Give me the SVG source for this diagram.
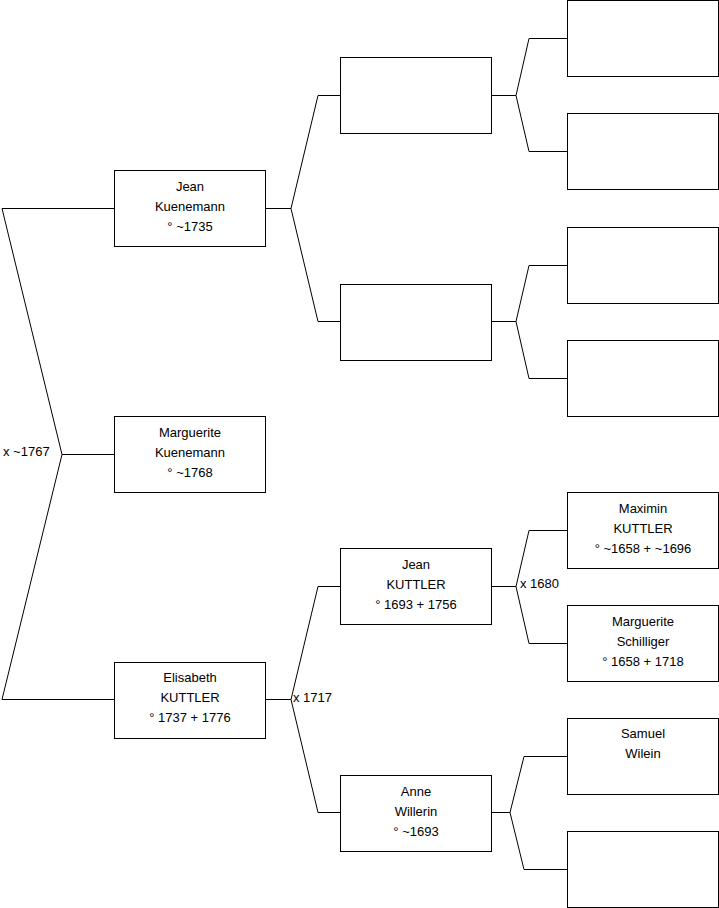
<svg xmlns="http://www.w3.org/2000/svg" width="719" height="908" viewBox="0 0 719 908">
<style>
.box{fill:#fff;stroke:#000;stroke-width:1}
.ln{fill:none;stroke:#000;stroke-width:1}
text{font-family:"Liberation Sans",Arial,sans-serif;font-size:13px;fill:#000}
.c{text-anchor:middle}
</style>
<rect width="719" height="908" fill="#fff"/>
<g id="connectors">
<polyline class="ln" points="114,208.5 2,208.5 62,454.5 2,699.5 114,699.5"/>
<line class="ln" x1="62" y1="454.5" x2="114" y2="454.5"/>
<polyline class="ln" points="340,95.5 318,95.5 291,208.5 318,321.5 340,321.5"/>
<line class="ln" x1="265" y1="208.5" x2="291" y2="208.5"/>
<polyline class="ln" points="340,586.5 318,586.5 291,699.5 318,812.5 340,812.5"/>
<line class="ln" x1="265" y1="699.5" x2="291" y2="699.5"/>
<polyline class="ln" points="567,38.5 529,38.5 516,95.5 529,151.5 567,151.5"/>
<line class="ln" x1="492" y1="95.5" x2="516" y2="95.5"/>
<polyline class="ln" points="567,265.5 529,265.5 516,321.5 529,378.5 567,378.5"/>
<line class="ln" x1="492" y1="321.5" x2="516" y2="321.5"/>
<polyline class="ln" points="567,530.5 529,530.5 516,586.5 529,643.5 567,643.5"/>
<line class="ln" x1="492" y1="586.5" x2="516" y2="586.5"/>
<polyline class="ln" points="567,756.5 524,756.5 510,812.5 524,869.5 567,869.5"/>
<line class="ln" x1="492" y1="812.5" x2="510" y2="812.5"/>
<text x="3" y="456">x ~1767</text>
<text x="293" y="702">x 1717</text>
<text x="520" y="588">x 1680</text>
</g>
<g id="n1"><rect class="box" x="114.5" y="170.5" width="151" height="76"/>
<text class="c" x="190" y="191">Jean</text><text class="c" x="190" y="211">Kuenemann</text><text class="c" x="190" y="231">° ~1735</text></g>
<g id="n2"><rect class="box" x="114.5" y="416.5" width="151" height="76"/>
<text class="c" x="190" y="437">Marguerite</text><text class="c" x="190" y="457">Kuenemann</text><text class="c" x="190" y="477">° ~1768</text></g>
<g id="n3"><rect class="box" x="114.5" y="662.5" width="151" height="76"/>
<text class="c" x="190" y="682">Elisabeth</text><text class="c" x="190" y="702">KUTTLER</text><text class="c" x="190" y="722">° 1737 + 1776</text></g>
<g id="n4"><rect class="box" x="340.5" y="57.5" width="151" height="76"/></g>
<g id="n5"><rect class="box" x="340.5" y="284.5" width="151" height="76"/></g>
<g id="n6"><rect class="box" x="340.5" y="548.5" width="151" height="76"/>
<text class="c" x="416" y="569">Jean</text><text class="c" x="416" y="589">KUTTLER</text><text class="c" x="416" y="609">° 1693 + 1756</text></g>
<g id="n7"><rect class="box" x="340.5" y="775.5" width="151" height="76"/>
<text class="c" x="416" y="796">Anne</text><text class="c" x="416" y="816">Willerin</text><text class="c" x="416" y="836">° ~1693</text></g>
<g id="n8"><rect class="box" x="567.5" y="0.5" width="151" height="76"/></g>
<g id="n9"><rect class="box" x="567.5" y="113.5" width="151" height="76"/></g>
<g id="n10"><rect class="box" x="567.5" y="227.5" width="151" height="76"/></g>
<g id="n11"><rect class="box" x="567.5" y="340.5" width="151" height="76"/></g>
<g id="n12"><rect class="box" x="567.5" y="492.5" width="151" height="76"/>
<text class="c" x="643" y="513">Maximin</text><text class="c" x="643" y="533">KUTTLER</text><text class="c" x="643" y="553">° ~1658 + ~1696</text></g>
<g id="n13"><rect class="box" x="567.5" y="605.5" width="151" height="76"/>
<text class="c" x="643" y="626">Marguerite</text><text class="c" x="643" y="646">Schilliger</text><text class="c" x="643" y="666">° 1658 + 1718</text></g>
<g id="n14"><rect class="box" x="567.5" y="718.5" width="151" height="76"/>
<text class="c" x="643" y="738">Samuel</text><text class="c" x="643" y="758">Wilein</text></g>
<g id="n15"><rect class="box" x="567.5" y="831.5" width="151" height="76"/></g>
</svg>
